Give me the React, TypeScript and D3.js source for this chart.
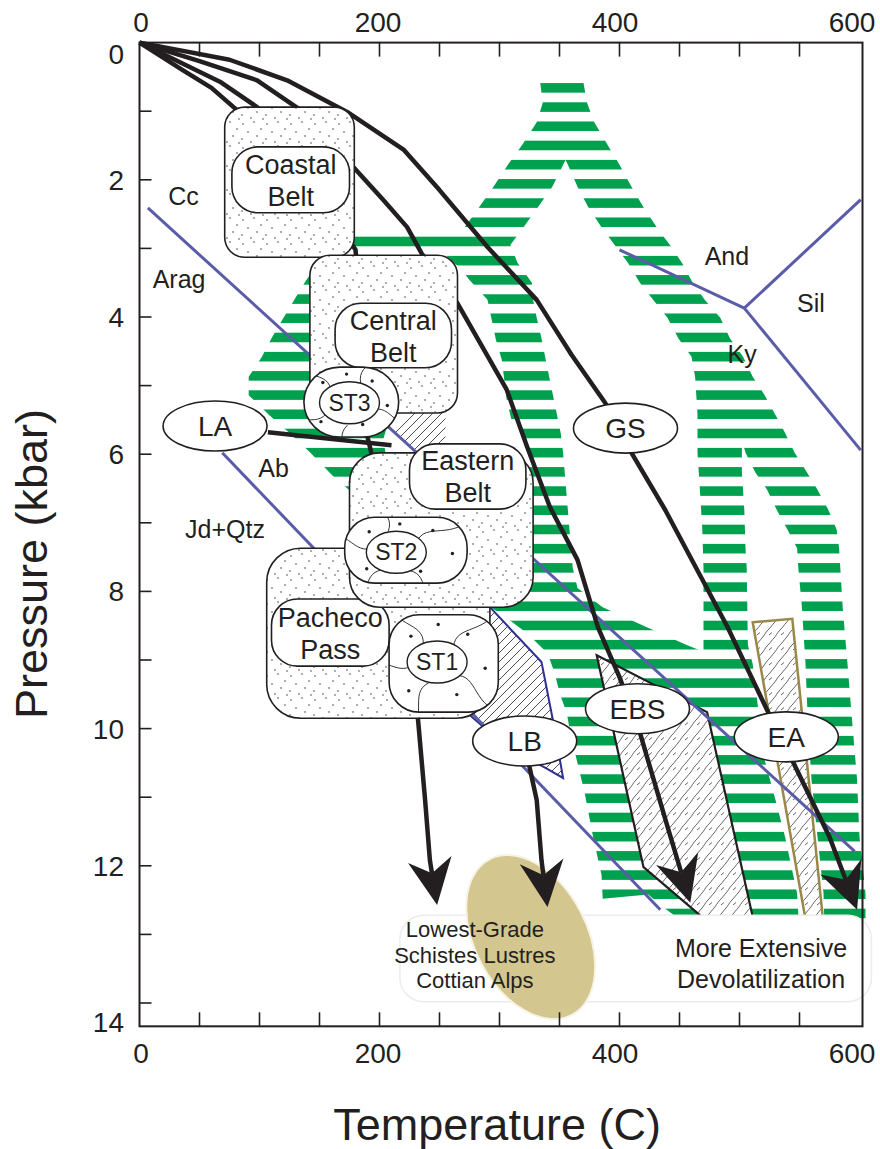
import React from "react";
import * as d3 from "d3";

type Pt = [number, number];

// axes
const tempLabels = [0, 200, 400, 600];
const tempTicks = [50, 100, 150, 200, 250, 300, 350, 400, 450, 500, 550];
const presLabels = [0, 2, 4, 6, 8, 10, 12, 14];
const presTicks = [1, 2, 3, 4, 5, 6, 7, 8, 9, 10, 11, 12, 13, 14];

// geotherms, T (C) and P (kbar)
const geothermGS: Pt[] = [[0, 0], [75, 0.25], [123, 0.55], [173, 1.01], [220, 1.56], [250, 2.15], [290, 2.98], [331, 3.75], [360, 4.55], [388, 5.25], [410, 5.98], [438, 6.81], [467, 7.76], [490, 8.52], [523, 9.73], [545, 10.5], [575, 11.58], [598, 12.64]];
const geothermEBS: Pt[] = [[0, 0], [50, 0.27], [98, 0.55], [134, 0.98], [159, 1.35], [178, 1.81], [203, 2.29], [223, 2.69], [235, 3.07], [250, 3.43], [265, 3.8], [292, 4.63], [306, 5.06], [323, 5.89], [342, 6.77], [365, 7.54], [382, 8.52], [400, 9.25], [417, 10.06], [440, 11.43], [459, 12.54]];
const geothermLow: Pt[] = [[0, 0], [67, 0.57], [98, 0.94], [142, 2.0], [180, 3.02], [186, 4.19], [190, 5.75], [194, 6.04], [213, 7.54], [227, 9.58], [232, 9.85], [238, 11.04], [242, 11.92], [248, 12.57]];
const geothermCool: Pt[] = [[0, 0], [36, 0.4], [60, 0.66], [81, 0.98], [101, 1.35]];
const lbPath: Pt[] = [[321, 10.18], [325, 10.56], [331, 11.04], [335, 11.92], [340, 12.6]];
const laPath: Pt[] = [[107, 5.68], [210, 5.87]];

// reaction lines
const ccArag: Pt[] = [[7, 2.41], [596, 11.79]];
const abJdQtz: Pt[] = [[69, 5.98], [434, 12.64]];
const andKy: Pt[] = [[400, 3.02], [504, 3.87]];
const andSil: Pt[] = [[504, 3.87], [601, 2.29]];
const kySil: Pt[] = [[504, 3.87], [601, 5.94]];

// green band: outline and holes
const greenOuter: Pt[] = [[334, 0.59], [370, 0.59], [373, 0.88], [379, 1.16], [390, 1.49], [400, 1.78], [410, 2.1], [420, 2.4], [431, 2.69], [442, 2.95], [452, 3.21], [461, 3.5], [471, 3.75], [484, 4.01], [492, 4.31], [503, 4.58], [511, 4.87], [521, 5.14], [530, 5.43], [538, 5.69], [546, 5.98], [556, 6.26], [565, 6.52], [574, 6.81], [581, 7.1], [583, 7.37], [584, 7.66], [586, 8.23], [590, 9.06], [594, 9.92], [598, 10.75], [600, 11.58], [605, 12.4], [605, 13.0], [467, 13.0], [434, 12.57], [424, 12.42], [386, 12.48], [385, 12.13], [378, 11.58], [371, 10.94], [367, 10.65], [363, 10.36], [359, 10.06], [356, 9.77], [350, 9.48], [346, 9.19], [340, 8.9], [323, 8.61], [300, 8.31], [292, 8.23], [163, 6.35], [142, 5.97], [125, 5.69], [108, 5.43], [91, 5.14], [91, 4.87], [102, 4.58], [110, 4.31], [120, 4.01], [129, 3.75], [139, 3.46], [150, 3.2], [155, 2.76], [263, 2.75], [271, 2.69], [283, 2.4], [295, 2.1], [307, 1.78], [319, 1.49], [331, 1.16], [336, 0.88]];
const greenHoleMain: Pt[] = [[355, 1.71], [344, 2.1], [332, 2.4], [320, 2.69], [309, 2.95], [315, 3.21], [327, 3.5], [328, 3.75], [331, 4.01], [335, 4.31], [338, 4.58], [351, 5.69], [353, 5.98], [361, 7.66], [365, 7.95], [386, 8.23], [420, 8.5], [456, 8.78], [470, 8.88], [470, 7.66], [469, 7.1], [467, 6.52], [465, 5.98], [465, 5.43], [464, 5.14], [463, 4.87], [460, 4.58], [449, 4.31], [440, 4.01], [428, 3.75], [417, 3.5], [407, 3.21], [396, 2.95], [385, 2.69], [374, 2.4], [365, 2.1], [357, 1.78]];
const greenHoleSplit: Pt[] = [[502, 5.79], [505, 5.98], [513, 6.26], [523, 6.52], [531, 6.81], [540, 7.1], [548, 7.37], [549, 7.66], [552, 8.23], [555, 9.06], [557, 9.92], [560, 10.75], [565, 11.58], [570, 12.4], [571, 13.0], [550, 13.0], [548, 12.4], [538, 11.58], [530, 11.04], [521, 10.46], [515, 9.63], [511, 9.06], [507, 8.78], [506, 7.66], [505, 7.37], [504, 6.81], [502, 6.26], [502, 5.98]];
const greenHoleLeft: Pt[] = [[255, 3.1], [268, 3.3], [275, 3.46], [290, 3.75], [297, 4.33], [302, 4.63], [306, 5.21], [310, 5.5], [320, 5.69], [325, 6.08], [325, 6.67], [234, 6.67], [205, 5.97], [203, 5.79], [213, 5.21], [217, 3.75], [242, 3.1]];

// hatched fields
const ebsField: Pt[] = [[381, 8.93], [473, 9.76], [519, 13.37], [510, 13.37], [465, 12.69], [420, 12.02]];
const eaField: Pt[] = [[511, 8.45], [544, 8.4], [573, 13.37], [561, 13.37]];
const lbField: Pt[] = [[292, 8.23], [335, 9.03], [344, 9.83], [353, 10.72], [339, 10.58], [304, 10.24], [273, 9.77], [250, 9.44], [250, 8.23]];
const laField: Pt[] = [[210, 5.62], [234, 5.28], [255, 5.28], [255, 5.97], [229, 5.97]];

// belts (outer extents and inner label boxes)
const beltNames = [["Coastal", "Belt"], ["Central", "Belt"], ["Pacheco", "Pass"], ["Eastern", "Belt"]];
const beltT: Pt[] = [[71, 179], [142, 265], [106, 292], [175, 328]];
const beltP: Pt[] = [[0.94, 3.13], [3.1, 5.4], [7.37, 9.85], [5.98, 8.23]];
const beltLabelT: Pt[] = [[77, 175], [163, 260], [110, 208], [225, 322]];
const beltLabelP: Pt[] = [[1.52, 2.48], [3.8, 4.74], [8.11, 9.09], [5.85, 6.8]];

const stNames = ["ST3", "ST1", "ST2"];
const stT: Pt[] = [[137, 216], [208, 299], [171, 273]];
const stP: Pt[] = [[4.73, 5.75], [8.34, 9.76], [6.92, 7.88]];
const stCenter: Pt[] = [[175, 5.25], [248, 9.03], [214, 7.43]];

const ovalNames = ["LA", "GS", "EBS", "EA", "LB"];
const ovalCenters: Pt[] = [[63, 5.59], [405, 5.62], [415, 9.71], [539, 10.12], [321, 10.18]];

const fieldNames = ["Cc", "Arag", "Ab", "Jd+Qtz", "And", "Sil", "Ky"];
const fieldPos: Pt[] = [[24, 2.37], [11, 3.58], [99, 6.33], [38, 7.22], [471, 3.24], [548, 3.93], [490, 4.67]];

const noteBoxT: Pt = [217, 610];
const noteBoxP: Pt = [12.72, 13.98];
const alpsCenter: Pt = [326, 13.04];
const noteLeft = ["Lowest-Grade", "Schistes Lustres", "Cottian Alps"];
const noteLeftPos: Pt[] = [[279.5, 13.04], [279.5, 13.42], [279.5, 13.78]];
const noteRight = ["More Extensive", "Devolatilization"];
const noteRightPos: Pt[] = [[518, 13.33], [518, 13.78]];

const W = 880;
const H = 1149;
const INK = "#231f20";
const GREEN = "#00a14e";
const BLUE = "#5a5ca8";
const FONT = "'Liberation Sans', Arial, Helvetica, sans-serif";

const x = d3.scaleLinear().domain([0, 600]).range([139.5, 859.5]);
const y = d3.scaleLinear().domain([0, 14]).range([42.6, 1003]);

const line = d3.line<Pt>().x((d) => x(d[0])).y((d) => y(d[1]));
const ring = d3.line<Pt>().x((d) => x(d[0])).y((d) => y(d[1])).curve(d3.curveLinearClosed);
const pxLine = d3.line<Pt>();

const stippleDots: Pt[] = [[3, 4], [14, 2], [21, 9], [8, 12], [17, 16], [2, 19], [11, 22], [23, 23]];
const rockAngles = [20, 95, 160, 215, 300];
const rockDots: Pt[] = [[0.2, 0.22], [0.72, 0.2], [0.88, 0.55], [0.62, 0.82], [0.18, 0.78], [0.45, 0.1]];

function arrow(data: Pt[]) {
  const pts: Pt[] = data.map((d) => [x(d[0]), y(d[1])]);
  const n = pts.length;
  const [tx, ty] = pts[n - 1];
  const [px, py] = pts[n - 2];
  const len = Math.hypot(tx - px, ty - py);
  const ux = (tx - px) / len;
  const uy = (ty - py) / len;
  const L = 46, hw = 22, notch = 14;
  const bx = tx - ux * L, by = ty - uy * L;
  const nx = tx - ux * (L - notch), ny = ty - uy * (L - notch);
  const head: Pt[] = [[tx, ty], [bx - uy * hw, by + ux * hw], [nx, ny], [bx + uy * hw, by - ux * hw]];
  const shaft: Pt[] = [...pts.slice(0, -1), [nx, ny]];
  return { shaft: pxLine(shaft) as string, head: (pxLine(head) as string) + "Z" };
}

function box(t: Pt, p: Pt) {
  return { x: x(t[0]), y: y(p[0]), width: x(t[1]) - x(t[0]), height: y(p[1]) - y(p[0]) };
}

const beltRadius = [20, 20, 34, 30];
const stRadius = [36, 30, 30];

export default function App() {
  const geotherms = [geothermGS, geothermEBS, geothermLow, lbPath].map(arrow);
  const greenPath = [greenOuter, greenHoleMain, greenHoleSplit, greenHoleLeft].map((r) => ring(r)).join(" ");

  const renderBelt = (i: number) => {
    const b = box(beltT[i], beltP[i]);
    const l = box(beltLabelT[i], beltLabelP[i]);
    const cx = l.x + l.width / 2;
    const cy = l.y + l.height / 2;
    return (
      <g key={"belt" + i}>
        <rect {...b} rx={beltRadius[i]} fill="url(#stipple)" stroke={INK} strokeWidth={1.6} />
        <rect {...l} rx={26} fill="#fff" stroke={INK} strokeWidth={1.6} />
        <text x={cx} y={cy - 6} textAnchor="middle" fontSize={27}>{beltNames[i][0]}</text>
        <text x={cx} y={cy + 26} textAnchor="middle" fontSize={27}>{beltNames[i][1]}</text>
      </g>
    );
  };
  const renderSt = (i: number) => {
    const b = box(stT[i], stP[i]);
    const [cx, cy] = [x(stCenter[i][0]), y(stCenter[i][1])];
    // wavy fabric lines radiating from the label ellipse
    const wig = rockAngles.map((a, k) => {
      const r = ((a + i * 17) * Math.PI) / 180;
      const vx = Math.cos(r) * 90, vy = Math.sin(r) * 90;
      const s = k % 2 ? 1 : -1;
      const ox = -Math.sin(r) * 16 * s, oy = Math.cos(r) * 16 * s;
      return `M${cx + vx * 0.25},${cy + vy * 0.25} C${cx + vx * 0.45 + ox},${cy + vy * 0.45 + oy} ${cx + vx * 0.6 - ox},${cy + vy * 0.6 - oy} ${cx + vx},${cy + vy}`;
    });
    return (
      <g key={"st" + i}>
        <clipPath id={"stclip" + i}>
          <rect {...b} rx={stRadius[i]} />
        </clipPath>
        <rect {...b} rx={stRadius[i]} fill="#fff" />
        <g clipPath={`url(#stclip${i})`}>
          {wig.map((d, k) => <path key={k} d={d} fill="none" stroke={INK} strokeWidth={0.9} />)}
        </g>
        {rockDots.map((d, k) => (
          <circle key={k} cx={b.x + d[0] * b.width} cy={b.y + d[1] * b.height} r={1.7} fill={INK} />
        ))}
        <rect {...b} rx={stRadius[i]} fill="none" stroke={INK} strokeWidth={1.6} />
        <ellipse cx={cx} cy={cy} rx={30} ry={21} fill="#fff" stroke={INK} strokeWidth={1.4} />
        <text x={cx} y={cy + 8} textAnchor="middle" fontSize={23}>{stNames[i]}</text>
      </g>
    );
  };

  const nb = box(noteBoxT, noteBoxP);

  return (
    <svg width={W} height={H} style={{ position: "absolute", left: 0, top: 0, background: "#fff" }} fontFamily={FONT} fill={INK}>
      <defs>
        <pattern id="stripes" patternUnits="userSpaceOnUse" width={20} height={19.2} y={y(0.59)}>
          <rect width={20} height={9.6} fill={GREEN} />
        </pattern>
        <pattern id="stipple" patternUnits="userSpaceOnUse" width={24} height={24}>
          <rect width={24} height={24} fill="#fff" />
          {stippleDots.map((d, i) => <circle key={i} cx={d[0]} cy={d[1]} r={0.7} fill={INK} />)}
        </pattern>
        <pattern id="hatch" patternUnits="userSpaceOnUse" width={9} height={9}>
          <rect width={9} height={9} fill="#fff" />
          <path d="M-1,1 l2,-2 M0,9 l9,-9 M8,10 l2,-2" stroke={INK} strokeWidth={0.8} />
        </pattern>
        <pattern id="wavy" patternUnits="userSpaceOnUse" width={12} height={15}>
          <rect width={12} height={15} fill="#fff" />
          <path d="M0,15 C3,12 4,10 6,8 S9,3 12,0" fill="none" stroke={INK} strokeWidth={0.7} />
          <path d="M1,5 l3,-2.5" fill="none" stroke={INK} strokeWidth={0.7} />
        </pattern>
      </defs>

      {/* green band */}
      <path d={greenPath} fill="url(#stripes)" fillRule="evenodd" />

      {/* hatched fields */}
      <path d={ring(laField) as string} fill="url(#hatch)" />
      <path d={ring(lbField) as string} fill="url(#hatch)" stroke="#2e3192" strokeWidth={2} />
      <path d={ring(ebsField) as string} fill="url(#wavy)" stroke={INK} strokeWidth={2.2} />
      <path d={ring(eaField) as string} fill="url(#wavy)" stroke="#9a884a" strokeWidth={2.5} />

      {/* reaction lines */}
      {[ccArag, abJdQtz, andKy, andSil, kySil].map((d, i) => (
        <path key={"r" + i} d={line(d) as string} fill="none" stroke={BLUE} strokeWidth={3} />
      ))}

      {/* note box and Alps field */}
      <rect {...nb} rx={24} fill="#fff" stroke="#ececec" strokeWidth={1.5} />
      <ellipse cx={x(alpsCenter[0])} cy={y(alpsCenter[1])} rx={56} ry={88} transform={`rotate(-28 ${x(alpsCenter[0])} ${y(alpsCenter[1])})`} fill="#d3c68e" stroke="#f6f2e4" strokeWidth={2} />

      {/* geotherms */}
      <path d={line(geothermCool) as string} fill="none" stroke={INK} strokeWidth={4.5} strokeLinejoin="round" />
      {geotherms.map((g, i) => (
        <g key={"g" + i}>
          <path d={g.shaft} fill="none" stroke={INK} strokeWidth={4.5} strokeLinejoin="round" />
          <path d={g.head} fill={INK} />
        </g>
      ))}
      <path d={line(laPath) as string} fill="none" stroke={INK} strokeWidth={4.5} />

      {/* belts */}
      {renderBelt(0)}
      {renderBelt(1)}
      {renderSt(0)}
      {renderBelt(2)}
      {renderSt(1)}
      {renderBelt(3)}
      {renderSt(2)}

      {/* ovals */}
      {ovalNames.map((n, i) => (
        <g key={n}>
          <ellipse cx={x(ovalCenters[i][0])} cy={y(ovalCenters[i][1])} rx={52} ry={25} fill="#fff" stroke={INK} strokeWidth={1.6} />
          <text x={x(ovalCenters[i][0])} y={y(ovalCenters[i][1]) + 10} textAnchor="middle" fontSize={28}>{n}</text>
        </g>
      ))}

      {/* field labels */}
      {fieldNames.map((n, i) => (
        <text key={n} x={x(fieldPos[i][0])} y={y(fieldPos[i][1])} fontSize={25}>{n}</text>
      ))}

      {/* notes */}
      {noteLeft.map((n, i) => (
        <text key={n} x={x(noteLeftPos[i][0])} y={y(noteLeftPos[i][1])} textAnchor="middle" fontSize={22}>{n}</text>
      ))}
      {noteRight.map((n, i) => (
        <text key={n} x={x(noteRightPos[i][0])} y={y(noteRightPos[i][1])} textAnchor="middle" fontSize={25}>{n}</text>
      ))}

      {/* frame and axes */}
      <rect x={x(0)} y={y(0)} width={x(602.5) - x(0)} height={y(14.34) - y(0)} fill="none" stroke={INK} strokeWidth={2} />
      {tempTicks.map((t) => (
        <g key={"tt" + t} stroke={INK} strokeWidth={1.6}>
          <line x1={x(t)} x2={x(t)} y1={y(0)} y2={y(0) + 14} />
          <line x1={x(t)} x2={x(t)} y1={y(14.34)} y2={y(14.34) - 14} />
        </g>
      ))}
      {presTicks.map((p) => (
        <line key={"pt" + p} x1={x(0)} x2={x(0) + 12} y1={y(p)} y2={y(p)} stroke={INK} strokeWidth={1.6} />
      ))}
      {tempLabels.map((t) => (
        <g key={"tl" + t} fontSize={28} textAnchor="middle">
          <text x={x(t) + 1.5 - (t / 600) * 9} y={32}>{t}</text>
          <text x={x(t) + 1.5 - (t / 600) * 9} y={1063}>{t}</text>
        </g>
      ))}
      {presLabels.map((p) => (
        <text key={"pl" + p} x={124} y={y(p) + 10 + (p === 0 ? 11 : p === 14 ? 19 : 0)} fontSize={28} textAnchor="end">{p}</text>
      ))}
      <text x={x(298)} y={1140} fontSize={45} textAnchor="middle">Temperature (C)</text>
      <text transform={`translate(47,${y(7.6)}) rotate(-90)`} fontSize={45} textAnchor="middle">Pressure (kbar)</text>
    </svg>
  );
}
